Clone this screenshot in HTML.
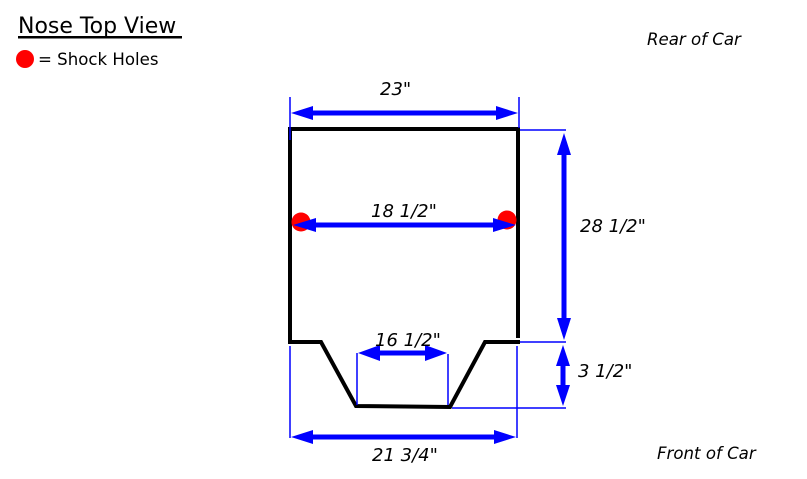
<!DOCTYPE html>
<html><head><meta charset="utf-8"><style>
html,body{margin:0;padding:0;background:#fff;}
svg{display:block;}
text{font-family:"DejaVu Sans","Liberation Sans",sans-serif;}
.l{font-style:italic;font-size:18px;fill:#000;}
.c{font-style:italic;font-size:16.6px;fill:#000;}
</style></head><body>
<svg width="807" height="479" viewBox="0 0 807 479" xmlns="http://www.w3.org/2000/svg">
<rect width="807" height="479" fill="#fff"/>
<text x="18" y="33" font-size="22" fill="#000">Nose Top View</text>
<rect x="18" y="36" width="164" height="2.5" fill="#000"/>
<circle cx="25" cy="59" r="9" fill="#f00"/>
<text x="38" y="65" font-size="16.6" fill="#000">= Shock Holes</text>
<text x="647" y="45" class="c">Rear of Car</text>
<text x="657" y="459" class="c">Front of Car</text>

<line x1="288" y1="129" x2="520" y2="129" stroke="#000" stroke-width="4"/>
<line x1="290" y1="127" x2="290" y2="344" stroke="#000" stroke-width="4"/>
<line x1="518" y1="127" x2="518" y2="338" stroke="#000" stroke-width="4"/>
<polyline points="288,342 321,342 356,406 450,407 485,342 520,342" stroke="#000" stroke-width="4" fill="none"/>

<g stroke="#00f" fill="#00f">
<line x1="290" y1="97" x2="290" y2="140" stroke-width="1.5"/>
<line x1="519" y1="97" x2="519" y2="128" stroke-width="1.5"/>
<line x1="305" y1="113" x2="504" y2="113" stroke-width="5"/>
<polygon points="291,113 313,106 313,120" stroke="none"/>
<polygon points="518,113 496,106 496,120" stroke="none"/>
<line x1="305" y1="225" x2="502" y2="225" stroke-width="5"/>
<line x1="520" y1="130" x2="566" y2="130" stroke-width="1.5"/>
<line x1="520" y1="342" x2="566" y2="342" stroke-width="1.5"/>
<line x1="564" y1="150" x2="564" y2="322" stroke-width="5"/>
<polygon points="564,133 557,155 571,155" stroke="none"/>
<polygon points="564,340 557,318 571,318" stroke="none"/>
<line x1="563" y1="360" x2="563" y2="392" stroke-width="5"/>
<polygon points="563,345 556,366 570,366" stroke="none"/>
<polygon points="563,406 556,385 570,385" stroke="none"/>
<line x1="452" y1="408" x2="566" y2="408" stroke-width="1.5"/>
<line x1="357" y1="353" x2="357" y2="405" stroke-width="1.5"/>
<line x1="448" y1="354" x2="448" y2="405" stroke-width="1.5"/>
<line x1="370" y1="353" x2="435" y2="353" stroke-width="5"/>
<polygon points="358,353 380,345 380,361" stroke="none"/>
<polygon points="447,353 425,345 425,361" stroke="none"/>
<line x1="290" y1="346" x2="290" y2="438" stroke-width="1.5"/>
<line x1="517" y1="346" x2="517" y2="438" stroke-width="1.5"/>
<line x1="305" y1="437" x2="500" y2="437" stroke-width="5"/>
<polygon points="291,437 313,430 313,444" stroke="none"/>
<polygon points="516,437 494,430 494,444" stroke="none"/>
</g>
<circle cx="301" cy="222" r="9.5" fill="#f00"/>
<circle cx="507" cy="220" r="9.5" fill="#f00"/>
<g fill="#00f">
<polygon points="293,225 316,218 316,232"/>
<polygon points="516,225 493,218 493,232"/>
</g>

<text x="380" y="95" class="l">23"</text>
<text x="371" y="217" class="l">18 1/2"</text>
<text x="580" y="232" class="l">28 1/2"</text>
<text x="578" y="377" class="l">3 1/2"</text>
<text x="375" y="346" class="l">16 1/2"</text>
<text x="372" y="461" class="l">21 3/4"</text>
</svg>
</body></html>
